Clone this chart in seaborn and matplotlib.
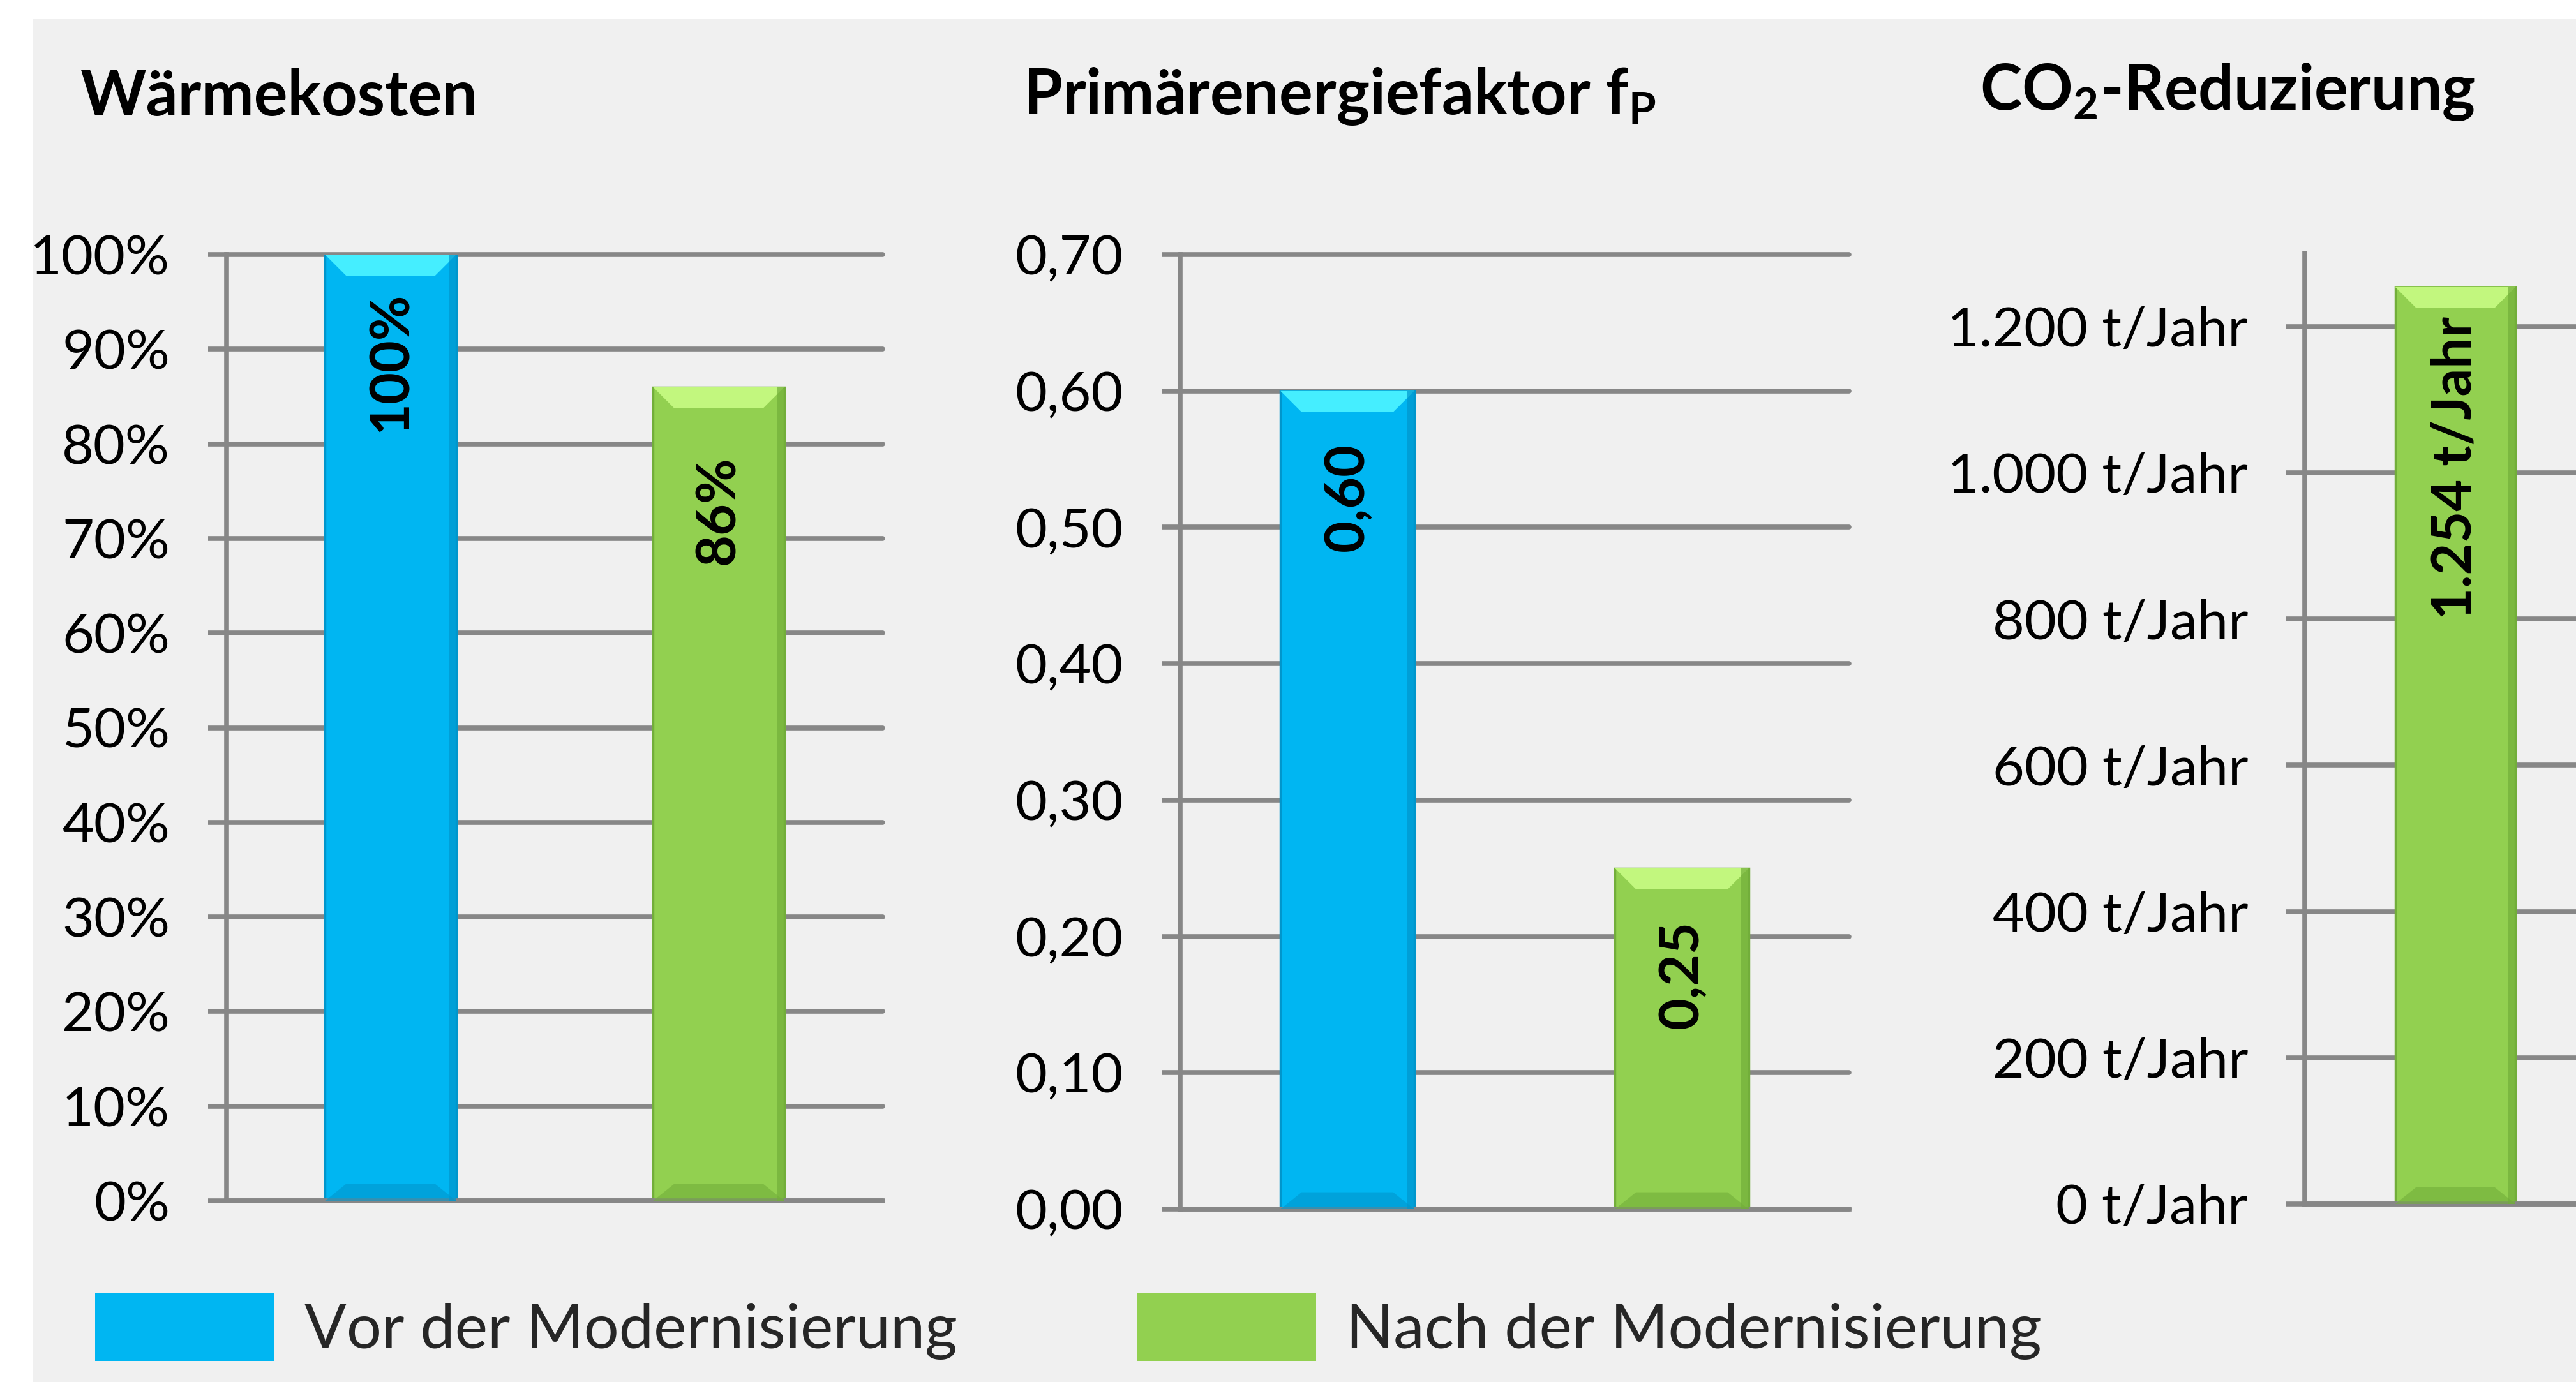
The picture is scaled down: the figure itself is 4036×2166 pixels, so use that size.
import numpy as np
import pandas as pd
import matplotlib.pyplot as plt
import seaborn as sns
from matplotlib.patches import Rectangle, Polygon, Patch

sns.set_theme(style='white')
plt.rcParams['font.family'] = ['Lato', 'DejaVu Sans']
plt.rcParams['mathtext.fontset'] = 'custom'
plt.rcParams['mathtext.rm'] = 'Lato:bold'
plt.rcParams['mathtext.it'] = 'Lato:bold:italic'
plt.rcParams['mathtext.bf'] = 'Lato:bold'

# data
series = ["Vor der Modernisierung", "Nach der Modernisierung"]
waermekosten = [100, 86]          # %
primaerfaktor = [0.60, 0.25]      # f_P
co2_series = ["Nach der Modernisierung"]
co2_reduktion = [1254]            # t/Jahr

ticks_pct = [0, 10, 20, 30, 40, 50, 60, 70, 80, 90, 100]
ticks_fp = [0.0, 0.1, 0.2, 0.3, 0.4, 0.5, 0.6, 0.7]
ticks_co2 = [0, 200, 400, 600, 800, 1000, 1200]

titles = ["Wärmekosten", "Primärenergiefaktor f$_\\mathrm{P}$", "CO$_\\mathrm{2}$-Reduzierung"]

blue = '#00B6F2'
green = '#92D050'
colors = {series[0]: blue, series[1]: green}
light = {blue: '#45EEFF', green: '#C2F77E'}
dark = {blue: '#0096CC', green: '#72AE3A'}
grid_col = '#878787'


def fmt_pct(v):
    return f"{v:.0f}%"


def fmt_fp(v):
    return f"{v:.2f}".replace('.', ',')


def fmt_co2(v):
    return f"{v:,.0f} t/Jahr".replace(',', '.')


W, H = 4037, 2166
fig = plt.figure(figsize=(W / 100, H / 100), dpi=100)
fig.patch.set_facecolor('white')
fig.patches.append(Rectangle((51 / W, 0), 1, 1 - 30 / H, transform=fig.transFigure,
                             facecolor='#F0F0F0', edgecolor='none', zorder=-10))


def px_axes(l, r, b, t):
    return fig.add_axes([l / W, 1 - b / H, (r - l) / W, (b - t) / H])


def bevel(ax, px_depth=33):
    fig.canvas.draw()
    bb = ax.get_window_extent()
    x0, x1 = ax.get_xlim()
    y0, y1 = ax.get_ylim()
    dx = px_depth * (x1 - x0) / bb.width
    dy = px_depth * (y1 - y0) / bb.height
    for p in list(ax.patches):
        x, w, h = p.get_x(), p.get_width(), p.get_height()
        c = p.get_facecolor()
        key = blue if c[2] > 0.8 else green
        p.set_edgecolor(dark[key])
        p.set_linewidth(2.5)
        ax.add_patch(Polygon([(x, h), (x + w, h), (x + w - dx, h - dy), (x + dx, h - dy)],
                             closed=True, facecolor=light[key], edgecolor='none', zorder=3))
        ax.add_patch(Polygon([(x, 0), (x + w, 0), (x + w - dx, dy * 0.8), (x + dx, dy * 0.8)],
                             closed=True, facecolor=dark[key], edgecolor='none', alpha=0.6, zorder=3))
        ax.add_patch(Rectangle((x + w - dx * 0.35, 0), dx * 0.35, h, facecolor=dark[key],
                               edgecolor='none', alpha=0.7, zorder=3))


def style(ax, ticks, ymax, fmt):
    ax.set_facecolor('none')
    ax.set_ylim(0, ymax)
    ax.set_yticks(ticks)
    ax.set_yticklabels([fmt(v) for v in ticks])
    ax.set_xticks([])
    ax.set_xlabel('')
    ax.set_ylabel('')
    for s in ['top', 'right']:
        ax.spines[s].set_visible(False)
    for s in ['left', 'bottom']:
        ax.spines[s].set_color(grid_col)
        ax.spines[s].set_linewidth(5.5)
    ax.tick_params(axis='y', direction='out', length=21, width=5.5, color=grid_col,
                   labelsize=62, labelcolor='black', pad=43, left=True)
    ax.yaxis.grid(True, color=grid_col, linewidth=5.5)
    for gl in ax.get_ygridlines():
        gl.set_clip_on(False)
    ax.set_axisbelow(True)


def bar_labels(ax, vals, texts, off):
    for i, (v, t) in enumerate(zip(vals, texts)):
        ax.annotate(t, xy=(i, v), xytext=(0, -off), textcoords='offset pixels',
                    rotation=90, ha='center', va='bottom', fontsize=62,
                    fontweight='bold', color='black', zorder=5)


# panel 1
ax1 = px_axes(355, 1383, 1882, 399)
df1 = pd.DataFrame({'serie': series, 'wert': waermekosten})
sns.barplot(data=df1, x='serie', y='wert', hue='serie', palette=colors, width=0.4,
            saturation=1, legend=False, ax=ax1)
ax1.set_xlim(-0.5, 1.5)
style(ax1, ticks_pct, 100, fmt_pct)
bevel(ax1)
bar_labels(ax1, waermekosten, [fmt_pct(v) for v in waermekosten], 278)

# panel 2
ax2 = px_axes(1849, 2897, 1895, 399)
df2 = pd.DataFrame({'serie': series, 'wert': primaerfaktor})
sns.barplot(data=df2, x='serie', y='wert', hue='serie', palette=colors, width=0.4,
            saturation=1, legend=False, ax=ax2)
ax2.set_xlim(-0.5, 1.5)
style(ax2, ticks_fp, 0.7, fmt_fp)
bevel(ax2)
bar_labels(ax2, primaerfaktor, [fmt_fp(v) for v in primaerfaktor], 251)

# panel 3 (cut off at the right edge)
ax3 = px_axes(3611, 4083, 1887, 397)
df3 = pd.DataFrame({'serie': co2_series, 'wert': co2_reduktion})
sns.barplot(data=df3, x='serie', y='wert', hue='serie', palette=colors, width=0.4,
            saturation=1, legend=False, ax=ax3)
ax3.set_xlim(-0.5, 0.5)
style(ax3, ticks_co2, 1300, fmt_co2)
bevel(ax3)
bar_labels(ax3, co2_reduktion, [fmt_co2(v) for v in co2_reduktion], 521)

# titles
for x, y, t in zip([125, 1603, 3102], [181, 179, 172], titles):
    fig.text(x / W, 1 - y / H, t, fontsize=71, fontweight='bold', color='black',
             ha='left', va='baseline')

# legend
handles = [Patch(facecolor=blue, edgecolor='none'), Patch(facecolor=green, edgecolor='none')]
fig.legend(handles, series, loc='center left', bbox_to_anchor=(149 / W, 1 - 2080 / H),
           ncol=2, frameon=False, fontsize=70, handlelength=2.89, handleheight=1.3,
           handletextpad=0.48, columnspacing=2.9, borderpad=0, borderaxespad=0)

fig.savefig('out.png', dpi=100, facecolor=fig.get_facecolor())
